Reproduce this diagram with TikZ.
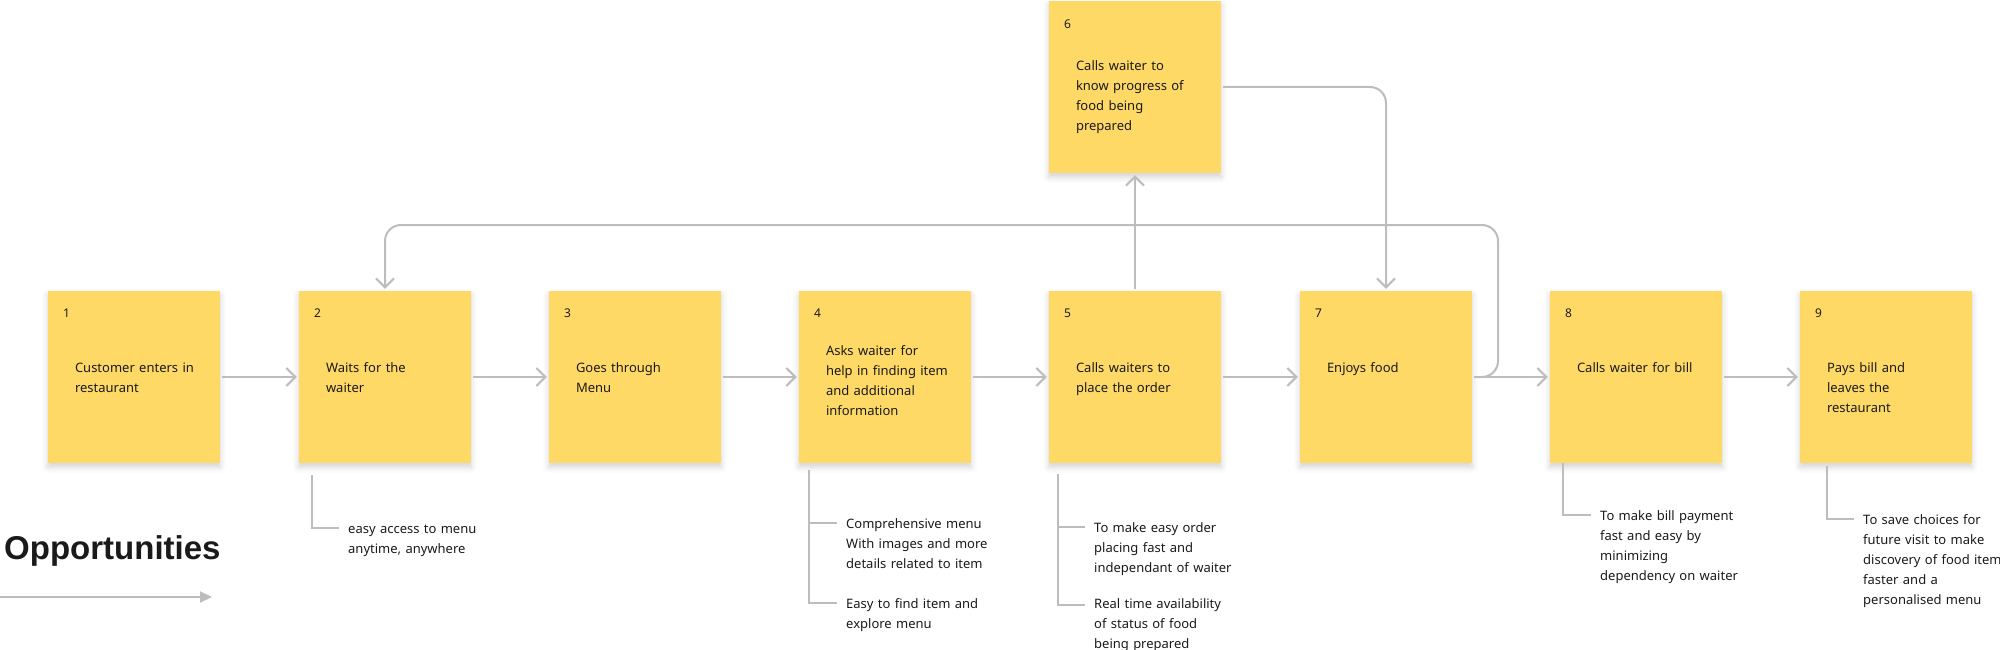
\documentclass[tikz,border=0pt]{standalone}
\usepackage{fontspec}
\setmainfont{Noto Sans}
\newfontfamily\titlefont{Liberation Sans}
\usetikzlibrary{arrows.meta,shadows.blur}
\definecolor{sticky}{HTML}{FFD966}
\definecolor{conn}{HTML}{BDBDBD}
\definecolor{ink}{HTML}{1A1A1A}
\begin{document}
\begin{tikzpicture}[x=1pt,y=-1pt,
  stickybox/.style={fill=sticky, draw=none, minimum width=172pt, minimum height=172pt, inner sep=0pt,
    blur shadow={shadow xshift=0pt, shadow yshift=-4pt, shadow blur radius=6pt, shadow opacity=18}},
  numlabel/.style={anchor=base west, inner sep=0pt, font=\fontsize{12}{14}\selectfont, text=ink},
  steptext/.style={anchor=base west, inner sep=0pt, text width=170pt, align=left, font=\fontsize{13}{20}\selectfont, text=ink},
  opptext/.style={anchor=base west, inner sep=0pt, text width=170pt, align=left, font=\fontsize{13}{20}\selectfont, text=ink},
  flow/.style={draw=conn, line width=2pt, -{Straight Barb[length=9pt,width=18pt]}, shorten >=2pt, shorten <=2pt},
  bracket/.style={draw=conn, line width=2pt},
]
\useasboundingbox (0,0) rectangle (2000,650);

% sticky notes
\node[stickybox] (b1) at (134,377) {};
\node[stickybox] (b2) at (385,377) {};
\node[stickybox] (b3) at (635,377) {};
\node[stickybox] (b4) at (885,377) {};
\node[stickybox] (b5) at (1135,377) {};
\node[stickybox] (b6) at (1135,87) {};
\node[stickybox] (b7) at (1386,377) {};
\node[stickybox] (b8) at (1636,377) {};
\node[stickybox] (b9) at (1886,377) {};

% numbers
\node[numlabel] (n1) at ([xshift=15pt,yshift=-27pt]b1.north west) {1};
\node[numlabel] (n2) at ([xshift=15pt,yshift=-27pt]b2.north west) {2};
\node[numlabel] (n3) at ([xshift=15pt,yshift=-27pt]b3.north west) {3};
\node[numlabel] (n4) at ([xshift=15pt,yshift=-27pt]b4.north west) {4};
\node[numlabel] (n5) at ([xshift=15pt,yshift=-27pt]b5.north west) {5};
\node[numlabel] (n6) at ([xshift=15pt,yshift=-28pt]b6.north west) {6};
\node[numlabel] (n7) at ([xshift=15pt,yshift=-27pt]b7.north west) {7};
\node[numlabel] (n8) at ([xshift=15pt,yshift=-27pt]b8.north west) {8};
\node[numlabel] (n9) at ([xshift=15pt,yshift=-27pt]b9.north west) {9};

% step texts
\node[steptext] (t1) at ([xshift=27pt,yshift=-82pt]b1.north west) {Customer enters in\\restaurant};
\node[steptext] (t2) at ([xshift=27pt,yshift=-82pt]b2.north west) {Waits for the\\waiter};
\node[steptext] (t3) at ([xshift=27pt,yshift=-82pt]b3.north west) {Goes through\\Menu};
\node[steptext] (t4) at ([xshift=27pt,yshift=-65pt]b4.north west) {Asks waiter for\\help in finding item\\and additional\\information};
\node[steptext] (t5) at ([xshift=27pt,yshift=-82pt]b5.north west) {Calls waiters to\\place the order};
\node[steptext] (t6) at ([xshift=27pt,yshift=-70pt]b6.north west) {Calls waiter to\\know progress of\\food being\\prepared};
\node[steptext] (t7) at ([xshift=27pt,yshift=-82pt]b7.north west) {Enjoys food};
\node[steptext] (t8) at ([xshift=27pt,yshift=-82pt]b8.north west) {Calls waiter for bill};
\node[steptext] (t9) at ([xshift=27pt,yshift=-82pt]b9.north west) {Pays bill and\\leaves the\\restaurant};

% flow connectors
\draw[flow] (b1) -- (b2);
\draw[flow] (b2) -- (b3);
\draw[flow] (b3) -- (b4);
\draw[flow] (b4) -- (b5);
\draw[flow] (b5) -- (b7);
\draw[flow] (b7) -- (b8);
\draw[flow] (b8) -- (b9);
\draw[flow] (b5) -- (b6);
\draw[flow, rounded corners=16pt] (b6) -| (b7);
\coordinate (loopR) at (1498,225);
\draw[flow, rounded corners=16pt] (b7.east) -| (loopR) -| (b2);

% opportunities
\node[anchor=base west, inner sep=0pt, font=\titlefont\bfseries\fontsize{33}{38}\selectfont, text=ink] (opp) at (4,559) {Opportunities};
\coordinate (os) at (0,597);
\coordinate (oe) at (212,597);
\draw[draw=conn, line width=2pt, -{Triangle[length=12pt,width=11pt]}] (os) -- (oe);

\node[opptext] (o2) at (348,533) {easy access to menu\\anytime, anywhere};
\node[opptext] (o4a) at (846,528) {Comprehensive menu\\With images and more\\details related to item};
\node[opptext] (o4b) at (846,608) {Easy to find item and\\explore menu};
\node[opptext] (o5a) at (1094,532) {To make easy order\\placing fast and\\independant of waiter};
\node[opptext] (o5b) at (1094,608) {Real time availability\\of status of food\\being prepared};
\node[opptext] (o8) at (1600,520) {To make bill payment\\fast and easy by\\minimizing\\dependency on waiter};
\node[opptext] (o9) at (1863,524) {To save choices for\\future visit to make\\discovery of food item\\faster and a\\personalised menu};

% brackets
\coordinate (k2) at ([xshift=13pt,yshift=-12pt]b2.south west);
\coordinate (a2) at ([xshift=-9pt,yshift=5pt]o2.base west);
\draw[bracket] (k2) |- (a2);
\coordinate (k4) at ([xshift=10pt,yshift=-7pt]b4.south west);
\coordinate (a4) at ([xshift=-9pt,yshift=5pt]o4a.base west);
\coordinate (c4) at ([xshift=-9pt,yshift=5pt]o4b.base west);
\draw[bracket] (k4) |- (c4);
\draw[bracket] (a4 -| k4) -- (a4);
\coordinate (k5) at ([xshift=9pt,yshift=-11pt]b5.south west);
\coordinate (a5) at ([xshift=-9pt,yshift=5pt]o5a.base west);
\coordinate (c5) at ([xshift=-9pt,yshift=3pt]o5b.base west);
\draw[bracket] (k5) |- (c5);
\draw[bracket] (a5 -| k5) -- (a5);
\coordinate (k8) at ([xshift=13pt,yshift=0pt]b8.south west);
\coordinate (a8) at ([xshift=-9pt,yshift=5pt]o8.base west);
\draw[bracket] (k8) |- (a8);
\coordinate (k9) at ([xshift=27pt,yshift=-3pt]b9.south west);
\coordinate (a9) at ([xshift=-9pt,yshift=5pt]o9.base west);
\draw[bracket] (k9) |- (a9);
\end{tikzpicture}
\end{document}
